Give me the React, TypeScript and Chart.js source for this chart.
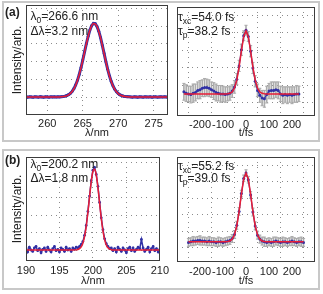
import React, { useEffect, useRef } from "react";
import { Chart, registerables } from "chart.js";
Chart.register(...registerables);

const FONT = '"Liberation Sans", Arial, sans-serif';
const BLUE = "rgb(48,48,165)";
const RED = "rgb(232,30,55)";
const GRAY = "rgb(172,172,172)";

// ---------- (a) spectrum ----------
const lambdaA = [257, 257.25, 257.5, 257.75, 258, 258.25, 258.5, 258.75, 259, 259.25, 259.5, 259.75, 260, 260.25, 260.5, 260.75, 261, 261.25, 261.5, 261.75, 262, 262.25, 262.5, 262.75, 263, 263.25, 263.5, 263.75, 264, 264.25, 264.5, 264.75, 265, 265.25, 265.5, 265.75, 266, 266.25, 266.5, 266.75, 267, 267.25, 267.5, 267.75, 268, 268.25, 268.5, 268.75, 269, 269.25, 269.5, 269.75, 270, 270.25, 270.5, 270.75, 271, 271.25, 271.5, 271.75, 272, 272.25, 272.5, 272.75, 273, 273.25, 273.5, 273.75, 274, 274.25, 274.5, 274.75, 275, 275.25, 275.5, 275.75, 276, 276.25, 276.5, 276.75, 277];
const specA = [0.004, -0.003, 0.002, 0.0, -0.004, 0.003, 0.001, -0.002, 0.004, 0.0, -0.003, 0.002, 0.001, -0.002, 0.003, 0.0, 0.002, -0.001, 0.003, 0.002, 0.005, 0.007, 0.012, 0.021, 0.033, 0.052, 0.079, 0.118, 0.17, 0.236, 0.319, 0.414, 0.523, 0.638, 0.752, 0.858, 0.946, 1.008, 1.04, 1.036, 0.998, 0.93, 0.838, 0.729, 0.616, 0.5, 0.394, 0.3, 0.221, 0.158, 0.109, 0.073, 0.048, 0.03, 0.019, 0.011, 0.007, 0.004, 0.003, 0.001, -0.002, 0.003, 0.0, -0.003, 0.002, 0.001, -0.002, 0.003, 0.0, -0.001, 0.002, -0.003, 0.001, 0.003, -0.002, 0.0, 0.002, -0.001, 0.003, 0.0, -0.002];
const lambdaFitA = [257, 261, 261.5, 262, 262.5, 263, 263.5, 264, 264.5, 265, 265.5, 266, 266.5, 267, 267.5, 268, 268.5, 269, 269.5, 270, 270.5, 271, 271.5, 272, 277];
const fitA = [0, 0, 0.001, 0.003, 0.011, 0.031, 0.077, 0.167, 0.316, 0.521, 0.75, 0.943, 1.037, 0.996, 0.835, 0.613, 0.392, 0.219, 0.107, 0.046, 0.017, 0.006, 0.002, 0, 0];
const lambdaTicksA = [260, 265, 270, 275];

// ---------- (a) cross-correlation ----------
const tA = [-270, -260, -250, -240, -230, -220, -210, -200, -190, -180, -170, -160, -150, -140, -130, -120, -110, -100, -90, -80, -70, -60, -50, -40, -30, -20, -10, 0, 10, 20, 30, 40, 50, 60, 70, 80, 90, 100, 110, 120, 130, 140, 150, 160, 170, 180, 190, 200, 210, 220, 230];
const xcA = [0.16, 0.14, 0.13, 0.12, 0.14, 0.15, 0.18, 0.19, 0.21, 0.22, 0.22, 0.21, 0.19, 0.17, 0.15, 0.14, 0.13, 0.13, 0.12, 0.13, 0.14, 0.17, 0.23, 0.34, 0.53, 0.76, 0.96, 1.04, 0.95, 0.74, 0.5, 0.31, 0.18, 0.11, 0.07, 0.06, 0.12, 0.17, 0.18, 0.18, 0.19, 0.18, 0.13, 0.11, 0.12, 0.11, 0.12, 0.11, 0.12, 0.13, 0.13];
const errA = [0.12, 0.12, 0.11, 0.12, 0.13, 0.12, 0.12, 0.13, 0.12, 0.13, 0.12, 0.12, 0.11, 0.12, 0.12, 0.11, 0.12, 0.11, 0.11, 0.1, 0.1, 0.09, 0.09, 0.08, 0.08, 0.08, 0.07, 0.07, 0.07, 0.08, 0.08, 0.08, 0.09, 0.1, 0.11, 0.12, 0.12, 0.11, 0.12, 0.12, 0.11, 0.12, 0.11, 0.12, 0.11, 0.12, 0.11, 0.12, 0.11, 0.12, 0.11];
const tFitA = [-270, -110, -100, -90, -80, -70, -60, -50, -40, -30, -20, -10, 0, 10, 20, 30, 40, 50, 60, 70, 80, 90, 100, 110, 230];
const xcFitA = [0.13, 0.13, 0.13, 0.13, 0.132, 0.138, 0.159, 0.213, 0.326, 0.512, 0.745, 0.948, 1.03, 0.948, 0.745, 0.512, 0.326, 0.213, 0.159, 0.138, 0.132, 0.13, 0.13, 0.13, 0.13];

// ---------- (b) spectrum ----------
const lambdaB = [190, 190.25, 190.5, 190.75, 191, 191.25, 191.5, 191.75, 192, 192.25, 192.5, 192.75, 193, 193.25, 193.5, 193.75, 194, 194.25, 194.5, 194.75, 195, 195.25, 195.5, 195.75, 196, 196.25, 196.5, 196.75, 197, 197.25, 197.5, 197.75, 198, 198.25, 198.5, 198.75, 199, 199.25, 199.5, 199.75, 200, 200.25, 200.5, 200.75, 201, 201.25, 201.5, 201.75, 202, 202.25, 202.5, 202.75, 203, 203.25, 203.5, 203.75, 204, 204.25, 204.5, 204.75, 205, 205.25, 205.5, 205.75, 206, 206.25, 206.5, 206.75, 207, 207.25, 207.5, 207.75, 208, 208.25, 208.5, 208.75, 209, 209.25, 209.5, 209.75, 210];
const specB = [0.02, -0.03, 0.04, 0.0, -0.02, 0.03, 0.05, -0.01, 0.02, -0.04, 0.01, 0.03, -0.02, 0.04, 0.0, -0.03, 0.02, 0.05, -0.01, 0.01, -0.03, 0.03, 0.01, -0.02, 0.04, 0.0, 0.02, -0.02, 0.03, 0.01, 0.04, 0.03, 0.05, 0.08, 0.12, 0.21, 0.35, 0.55, 0.77, 0.99, 1.14, 1.18, 1.08, 0.91, 0.68, 0.46, 0.29, 0.16, 0.09, 0.05, 0.02, 0.03, -0.01, 0.02, -0.03, 0.04, 0.01, -0.02, 0.03, 0.0, -0.04, 0.02, 0.04, -0.01, 0.03, -0.02, 0.01, 0.04, 0.02, 0.15, 0.03, -0.02, 0.01, 0.04, -0.03, 0.02, 0.05, -0.01, 0.02, -0.03, 0.01];
const lambdaFitB = [190, 197, 197.5, 197.75, 198, 198.25, 198.5, 198.75, 199, 199.25, 199.5, 199.75, 200, 200.25, 200.5, 200.75, 201, 201.25, 201.5, 201.75, 202, 202.25, 202.5, 202.75, 203, 203.5, 210];
const fitB = [0, 0, 0.002, 0.007, 0.019, 0.045, 0.097, 0.191, 0.338, 0.536, 0.762, 0.976, 1.121, 1.158, 1.074, 0.896, 0.67, 0.451, 0.273, 0.148, 0.072, 0.031, 0.013, 0.005, 0.001, 0, 0];
const lambdaTicksB = [190, 195, 200, 205, 210];

// ---------- (b) cross-correlation ----------
const tB = [-250, -240, -230, -220, -210, -200, -190, -180, -170, -160, -150, -140, -130, -120, -110, -100, -90, -80, -70, -60, -50, -40, -30, -20, -10, 0, 10, 20, 30, 40, 50, 60, 70, 80, 90, 100, 110, 120, 130, 140, 150, 160, 170, 180, 190, 200, 210, 220, 230, 240, 250];
const xcB = [0.08, 0.09, 0.1, 0.1, 0.11, 0.11, 0.1, 0.1, 0.09, 0.1, 0.09, 0.09, 0.08, 0.09, 0.09, 0.08, 0.09, 0.1, 0.11, 0.14, 0.2, 0.34, 0.55, 0.82, 1.05, 1.13, 1.03, 0.8, 0.54, 0.33, 0.19, 0.13, 0.1, 0.09, 0.08, 0.09, 0.08, 0.09, 0.1, 0.09, 0.08, 0.09, 0.09, 0.08, 0.09, 0.1, 0.09, 0.08, 0.09, 0.09, 0.08];
const errB = [0.06, 0.06, 0.07, 0.06, 0.06, 0.07, 0.06, 0.06, 0.06, 0.07, 0.06, 0.06, 0.06, 0.07, 0.06, 0.06, 0.06, 0.06, 0.06, 0.06, 0.06, 0.06, 0.06, 0.05, 0.05, 0.05, 0.05, 0.05, 0.06, 0.06, 0.06, 0.06, 0.06, 0.07, 0.06, 0.06, 0.06, 0.07, 0.06, 0.06, 0.06, 0.07, 0.06, 0.06, 0.06, 0.07, 0.06, 0.06, 0.06, 0.07, 0.06];
const tFitB = [-250, -110, -100, -90, -80, -70, -60, -50, -40, -30, -20, -10, 0, 10, 20, 30, 40, 50, 60, 70, 80, 90, 100, 110, 250];
const xcFitB = [0.09, 0.09, 0.09, 0.091, 0.093, 0.102, 0.129, 0.196, 0.332, 0.548, 0.812, 1.04, 1.13, 1.04, 0.812, 0.548, 0.332, 0.196, 0.129, 0.102, 0.093, 0.091, 0.09, 0.09, 0.09];

const timeTicks = [-200, -100, 0, 100, 200];
const gridTicksY = [0, 0.25, 0.5, 0.75, 1, 1.25];

const framePlugin = {
  id: "frame",
  afterDatasetsDraw(chart: any) {
    const { ctx, chartArea: a } = chart;
    ctx.save();
    ctx.strokeStyle = "#3c3c3c";
    ctx.lineWidth = 1;
    ctx.strokeRect(Math.round(a.left) + 0.5, Math.round(a.top) + 0.5, Math.round(a.right - a.left) - 1, Math.round(a.bottom - a.top) - 1);
    ctx.restore();
  },
};

function pts(xs: number[], ys: number[]) {
  return xs.map((x, i) => ({ x, y: ys[i] }));
}

function spectrumSets(xs: number[], ys: number[], fx: number[], fy: number[], bw: number) {
  return [
    { type: "line", data: pts(fx, fy), borderColor: RED, borderWidth: 1.5, pointRadius: 0, order: 1, cubicInterpolationMode: "monotone" },
    { type: "line", data: pts(xs, ys), borderColor: BLUE, borderWidth: bw, pointRadius: 1.4, pointBackgroundColor: BLUE, pointBorderWidth: 0, order: 2 },
  ];
}

function xcSets(ts: number[], vs: number[], es: number[], fx: number[], fy: number[]) {
  return [
    { type: "line", data: pts(fx, fy), borderColor: RED, borderWidth: 1.5, pointRadius: 0, order: 1 },
    { type: "line", data: pts(ts, vs), borderColor: BLUE, borderWidth: 1.2, pointRadius: 1.5, pointBackgroundColor: BLUE, pointBorderWidth: 0, order: 2 },
    { type: "bar", data: ts.map((x, i) => ({ x, y: [vs[i] - es[i], vs[i] + es[i]] })), backgroundColor: GRAY, barThickness: 1, grouped: false, order: 4 },
    { type: "line", data: pts(ts, vs.map((v, i) => v - es[i])), showLine: false, pointStyle: "line", pointRadius: 1.6, borderColor: GRAY, borderWidth: 1, order: 3 },
    { type: "line", data: pts(ts, vs.map((v, i) => v + es[i])), showLine: false, pointStyle: "line", pointRadius: 1.6, borderColor: GRAY, borderWidth: 1, order: 3 },
  ];
}

function makeConfig(o: any) {
  const gridCommon = { color: "#8c8c8c", lineWidth: 1, drawTicks: false };
  return {
    type: "line",
    data: { datasets: o.datasets },
    options: {
      animation: false,
      responsive: false,
      events: [],
      layout: { padding: o.padding },
      plugins: { legend: { display: false }, tooltip: { enabled: false } },
      scales: {
        x: {
          type: "linear",
          min: o.xMin,
          max: o.xMax,
          offset: false,
          afterBuildTicks: (ax: any) => { ax.ticks = o.xTicks.map((v: number) => ({ value: v })); },
          afterFit: (ax: any) => { ax.height = o.xHeight; },
          grid: gridCommon,
          border: { display: false, dash: [1, 4] },
          ticks: { padding: o.tickPad, color: "#222", font: { family: FONT, size: 11 }, maxRotation: 0, autoSkip: false },
          title: { display: true, text: o.xTitle, color: "#222", font: { family: FONT, size: 11 }, padding: { top: 0, bottom: o.titlePad } },
        },
        y: {
          type: "linear",
          min: o.yMin,
          max: o.yMax,
          afterBuildTicks: (ax: any) => { ax.ticks = gridTicksY.map((v) => ({ value: v })); },
          afterFit: (ax: any) => { ax.width = o.yWidth; },
          grid: gridCommon,
          border: { display: false, dash: [1, 4] },
          ticks: { display: false },
          title: o.yTitle
            ? { display: true, text: o.yTitle, color: "#222", font: { family: FONT, size: 12 }, padding: { top: 10, bottom: 0 } }
            : { display: false },
        },
      },
    },
    plugins: [framePlugin],
  };
}

function Panel({ left, top, width, height, config }: any) {
  const ref = useRef<HTMLCanvasElement>(null);
  useEffect(() => {
    const chart = new Chart(ref.current as HTMLCanvasElement, config as any);
    return () => chart.destroy();
  }, []);
  return <canvas ref={ref} width={width} height={height} style={{ position: "absolute", left, top, width, height }} />;
}

const textStyle: any = { position: "absolute", fontFamily: FONT, fontSize: 12, lineHeight: "14px", color: "#222", whiteSpace: "nowrap" };
const subStyle: any = { fontSize: 8.5, position: "relative", top: 3 };

function Label({ left, top, children, bold }: any) {
  return <div style={{ ...textStyle, left, top, fontWeight: bold ? "bold" : "normal" }}>{children}</div>;
}

export default function App() {
  const cfgLA = makeConfig({
    datasets: spectrumSets(lambdaA, specA, lambdaFitA, fitA, 3),
    xMin: 257, xMax: 277, xTicks: lambdaTicksA, xTitle: "λ/nm", yTitle: "Intensity/arb.",
    yMin: -0.254, yMax: 1.3, padding: { top: 5, right: 3, left: 0, bottom: 0 }, yWidth: 26, xHeight: 27, tickPad: 2, titlePad: 2.5,
  });
  const cfgRA = makeConfig({
    datasets: xcSets(tA, xcA, errA, tFitA, xcFitA),
    xMin: -300, xMax: 300, xTicks: timeTicks, xTitle: "t/fs",
    yMin: -0.186, yMax: 1.371, padding: { top: 7, right: 7, left: 0, bottom: 0 }, yWidth: 4, xHeight: 26, tickPad: 2, titlePad: 2.5,
  });
  const cfgLB = makeConfig({
    datasets: spectrumSets(lambdaB, specB, lambdaFitB, fitB, 1.5),
    xMin: 190, xMax: 210, xTicks: lambdaTicksB, xTitle: "λ/nm", yTitle: "Intensity/arb.",
    yMin: -0.157, yMax: 1.329, padding: { top: 9, right: 3, left: 0, bottom: 0 }, yWidth: 26, xHeight: 29, tickPad: 3, titlePad: 2.5,
  });
  const cfgRB = makeConfig({
    datasets: xcSets(tB, xcB, errB, tFitB, xcFitB),
    xMin: -300, xMax: 300, xTicks: timeTicks, xTitle: "t/fs",
    yMin: -0.217, yMax: 1.374, padding: { top: 9, right: 7, left: 0, bottom: 0 }, yWidth: 4, xHeight: 28, tickPad: 3, titlePad: 2.5,
  });

  const box: any = { position: "absolute", left: 2, width: 318, height: 141, border: "2px solid #c8c8c8", boxSizing: "border-box" };

  return (
    <div style={{ position: "fixed", left: 0, top: 0, width: 323, height: 294, background: "#fff", overflow: "hidden" }}>
      <div style={{ ...box, top: 1 }} />
      <div style={{ ...box, top: 149 }} />
      <Panel left={0} top={0} width={172} height={142} config={cfgLA} />
      <Panel left={172} top={0} width={150} height={142} config={cfgRA} />
      <Panel left={0} top={148} width={172} height={142} config={cfgLB} />
      <Panel left={172} top={148} width={150} height={142} config={cfgRB} />

      <Label left={5} top={5} bold>(a)</Label>
      <Label left={30.5} top={9.1}>λ<span style={subStyle}>0</span>=266.6 nm</Label>
      <Label left={30.5} top={23.8}>Δλ=3.2 nm</Label>
      <Label left={178} top={9.8}>τ<span style={subStyle}>xc</span>=54.0 fs</Label>
      <Label left={178} top={23.8}>τ<span style={subStyle}>p</span>=38.2 fs</Label>

      <Label left={5} top={153} bold>(b)</Label>
      <Label left={30.5} top={157.4}>λ<span style={subStyle}>0</span>=200.2 nm</Label>
      <Label left={30.5} top={170.8}>Δλ=1.8 nm</Label>
      <Label left={178} top={158.8}>τ<span style={subStyle}>xc</span>=55.2 fs</Label>
      <Label left={178} top={171.4}>τ<span style={subStyle}>p</span>=39.0 fs</Label>
    </div>
  );
}
